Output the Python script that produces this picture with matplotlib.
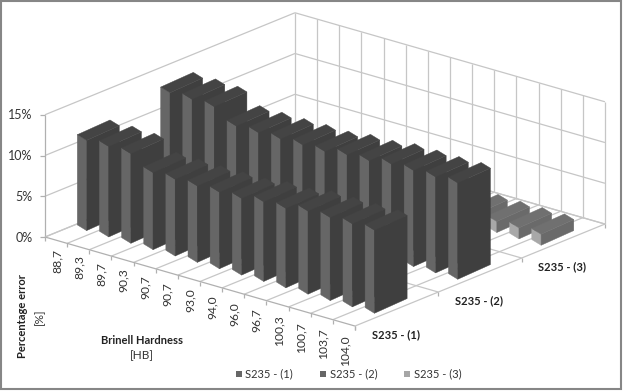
import matplotlib
matplotlib.use("Agg")
import matplotlib.pyplot as plt
from matplotlib.patches import Rectangle

categories = ["88,7", "89,3", "89,7", "90,3", "90,7", "90,7", "93,0",
              "94,0", "96,0", "96,7", "100,3", "100,7", "103,7", "104,0"]
series_names = ["S235 - (1)", "S235 - (2)", "S235 - (3)"]
s1 = [11.07, 11.1, 11.0, 9.46, 9.42, 9.38, 9.4, 9.41, 9.78, 9.75, 10.2, 10.2, 10.2, 10.2]
s2 = [12.74, 12.72, 12.6, 11.0, 10.97, 10.98, 11.03, 11.0, 11.38, 11.43, 11.8, 11.8, 11.78, 11.83]
s3 = [1.4, 1.4, 1.4, 1.4, 1.4, 1.4, 1.4, 1.4, 1.4, 1.4, 1.4, 1.35, 1.35, 1.35]
series_values = [s1, s2, s3]
z_ticks = [0, 5, 10, 15]

# oblique projection of (category, series, percent) on to the page
ORIGIN = (45.0, 237.0)
CAT = (22.14, 6.36)
SER = (83.33, -34.0)
ZS = 8.15

def proj(u, v, z=0.0):
    return (ORIGIN[0] + CAT[0] * u + SER[0] * v,
            ORIGIN[1] + CAT[1] * u + SER[1] * v - ZS * z)

WIDTH = (9.3, 5.7)
DEPTH = (32.7, -14.7)
BAR_U, BAR_V = 0.07, 0.369
FACES = [("#666666", "#3f3f3f", "#444444"),
         ("#666666", "#3f3f3f", "#444444"),
         ("#a8a8a8", "#6a6a6a", "#707070")]
LEGEND = ["#666666", "#666666", "#a6a6a6"]
GRID = "#c6c6c6"
EDGE = "#b0b0b0"
TEXT = "#333333"

plt.rcParams["font.family"] = ["Lato", "DejaVu Sans"]
fig = plt.figure(figsize=(6.24, 3.92), dpi=100)
ax = fig.add_axes([0, 0, 1, 1])
ax.set_xlim(0, 624)
ax.set_ylim(392, 0)
ax.axis("off")

ax.add_patch(Rectangle((1, 1), 620, 388, fc="white", ec="#868686", lw=1.5, zorder=0))

def line(a, b, c=GRID, lw=0.9, z=1):
    ax.plot([a[0], b[0]], [a[1], b[1]], color=c, lw=lw, zorder=z, solid_capstyle="butt")

nc, ns = len(categories), len(series_names)
top = z_ticks[-1]
# walls
for t in z_ticks:
    line(proj(0, 0, t), proj(0, ns, t))
    line(proj(0, ns, t), proj(nc, ns, t))
    a = proj(0, 0, t)
    line((a[0] - 5, a[1]), a, EDGE)
    ax.text(a[0] - 12.5, a[1] + 0.5, f"{t}%", ha="right", va="center", fontsize=9, color=TEXT)
line(proj(0, 0, 0), proj(0, 0, top), EDGE)
for i in range(nc + 1):
    line(proj(i, ns, 0), proj(i, ns, top))
# floor
for i in range(nc + 1):
    line(proj(i, 0), proj(i, ns))
    a = proj(i, 0)
    line(a, (a[0], a[1] + 4), EDGE)
for j in range(ns + 1):
    line(proj(0, j), proj(nc, j), EDGE if j == 0 else GRID)
for j in range(ns + 1):
    a = proj(nc, j)
    line(a, (a[0], a[1] + 4), EDGE)

# bars, back to front
order = 10
for j in reversed(range(ns)):
    light, dark, cap = FACES[j]
    for i, val in enumerate(series_values[j]):
        p0 = proj(i + BAR_U, j + BAR_V)
        bx, by = p0
        h = ZS * val
        p1 = (bx + WIDTH[0], by + WIDTH[1])
        p2 = (p1[0] + DEPTH[0], p1[1] + DEPTH[1])
        p3 = (bx + DEPTH[0], by + DEPTH[1])
        up = lambda p: (p[0], p[1] - h)
        ax.fill(*zip(p0, p1, up(p1), up(p0)), fc=light, ec=light, lw=0.3, zorder=order)
        ax.fill(*zip(p1, p2, up(p2), up(p1)), fc=dark, ec=dark, lw=0.3, zorder=order)
        ax.fill(*zip(up(p0), up(p1), up(p2), up(p3)), fc=cap, ec=cap, lw=0.3, zorder=order)
        order += 1

# category labels
for i, lab in enumerate(categories):
    x, y = proj(i + 0.5, 0)
    ax.text(x + 1, y + 8.5 + 0.3 * i, lab, rotation=90, ha="center", va="top", fontsize=8.7, color=TEXT)

# series labels
for j, lab in enumerate(series_names):
    x, y = proj(nc, j + 0.5)
    ax.text(x - 1, y + 26, lab, ha="center", va="center", fontsize=8, fontweight="bold", color="#222222")

# axis titles
ax.text(142, 340, "Brinell Hardness", ha="center", va="center", fontsize=8, fontweight="bold", color="#222222")
ax.text(142, 356, "[HB]", ha="center", va="center", fontsize=8.5, color=TEXT)
ax.text(23, 316, "Percentage error", rotation=90, ha="center", va="center", fontsize=8, fontweight="bold", color="#222222")
ax.text(39, 317, "[%]", rotation=90, ha="center", va="center", fontsize=8.5, color=TEXT)

# legend
for lx, lab, col in zip([235.5, 320, 404], series_names, LEGEND):
    ax.add_patch(Rectangle((lx, 371), 6, 6, fc=col, ec="none", zorder=5))
    ax.text(lx + 9.5, 373.5, lab, ha="left", va="center", fontsize=8, color=TEXT)

fig.savefig("out.png", dpi=100)
